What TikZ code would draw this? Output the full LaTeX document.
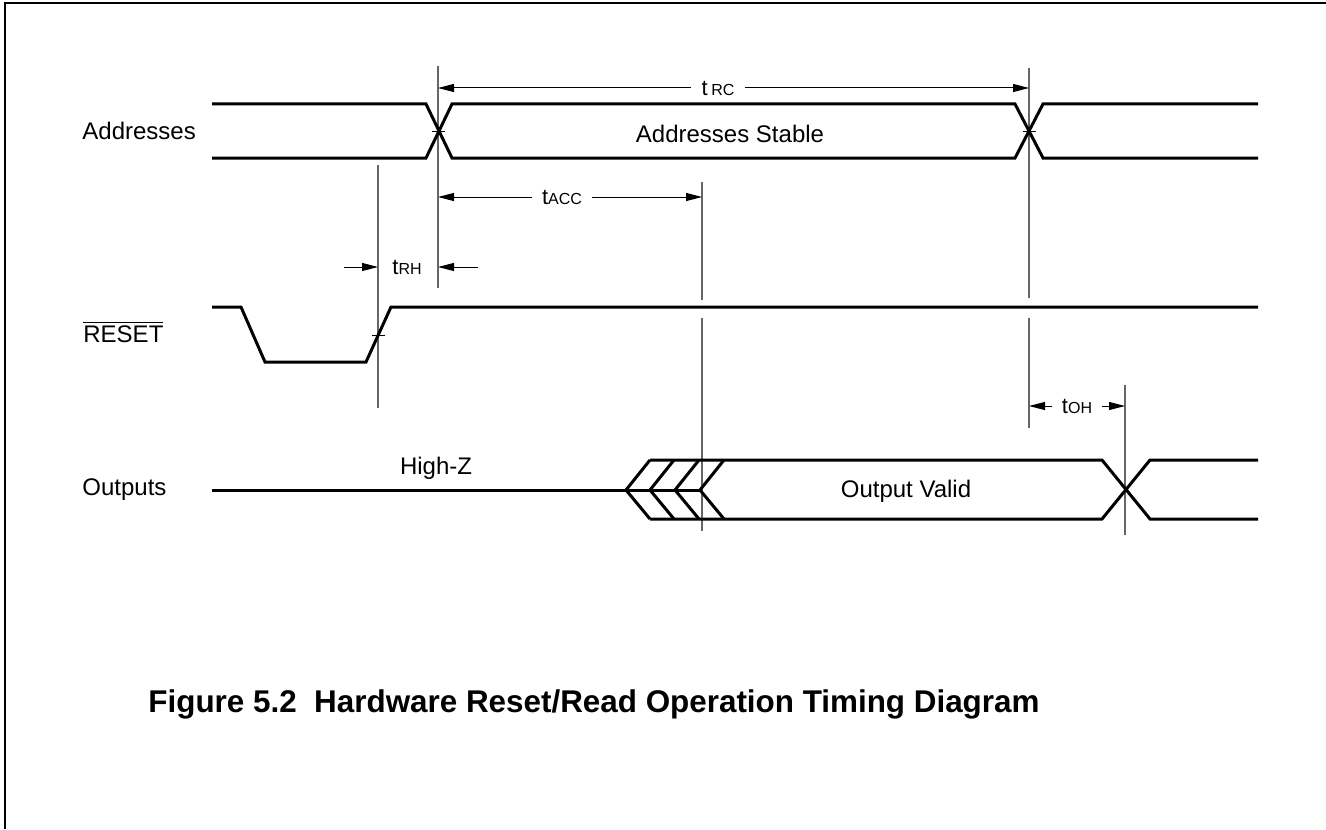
\documentclass[tikz,border=0pt]{standalone}
\usepackage{fontspec}
\setmainfont{Liberation Sans}
\usetikzlibrary{arrows.meta,calc}
\tikzset{
  sig/.style={line width=1.5pt, line join=miter},
  markline/.style={black!60, line width=0.6pt},
  dim/.style={line width=0.5pt, -{Triangle[length=8pt,width=4pt]}},
  lbl/.style={font=\fontsize{12}{14}\selectfont, inner sep=0pt},
  tlbl/.style={font=\fontsize{11}{13}\selectfont, inner xsep=5pt, inner ysep=0pt},
}
\newcommand{\tname}[2]{#1{\fontsize{8}{9}\selectfont #2}}

\begin{document}
\begin{tikzpicture}[x=0.5pt,y=-0.5pt]
    \useasboundingbox (0,0) rectangle (1326,829);
    \draw[line width=1pt] (5,829) -- (5,3) -- (1326,3);

    % timing marks
    \coordinate (rh1) at (378,165);   \coordinate (rh2) at (378,408);
    \coordinate (ad1) at (438,66);    \coordinate (ad2) at (438,288);
    \coordinate (ac1) at (702,182);   \coordinate (ac2) at (702,300);
    \coordinate (ac3) at (702,318);   \coordinate (ac4) at (702,531);
    \coordinate (rc1) at (1029,68);   \coordinate (rc2) at (1029,298);
    \coordinate (rc3) at (1029,318);  \coordinate (rc4) at (1029,428);
    \coordinate (oh1) at (1125,385);  \coordinate (oh2) at (1125,535);
    \draw[markline] (rh1) -- (rh2);
    \draw[markline] (ad1) -- (ad2);
    \draw[markline] (ac1) -- (ac2) (ac3) -- (ac4);
    \draw[markline] (rc1) -- (rc2) (rc3) -- (rc4);
    \draw[markline] (oh1) -- (oh2);

    % signal names
    \node[lbl,anchor=west] (addr) at (82,131) {Addresses};
    \node[lbl,anchor=west] (rst) at (83,332) {$\overline{\mbox{RESET}}$};
    \node[lbl,anchor=west] (outs) at (82,490) {Outputs};

    % addresses
    \draw[sig] (212,104) -- (426,104) -- (452,158) -- (1015,158) -- (1043,104) -- (1258,104);
    \draw[sig] (212,158) -- (426,158) -- (452,104) -- (1015,104) -- (1043,158) -- (1258,158);
    \draw[line width=0.5pt] (432,131) -- (445,131) (1023,131) -- (1036,131);
    \node[lbl] (stable) at (730,134) {Addresses Stable};

    % reset
    \draw[sig] (212,307) -- (241,307) -- (265,362) -- (366,362) -- (391,307) -- (1258,307);
    \draw[line width=0.5pt] (372,335) -- (385,335);

    % outputs
    \draw[sig] (212,490) -- (700,490);
    \foreach \x in {626,650,675,700}
        \draw[sig] (\x+24,460) -- (\x,490) -- (\x+24,519);
    \draw[sig] (650,460) -- (1102,460) -- (1150,519) -- (1258,519);
    \draw[sig] (650,519) -- (1102,519) -- (1150,460) -- (1258,460);
    \node[lbl] (hiz) at (436,468) {High-Z};
    \node[lbl] (valid) at (906,491) {Output Valid};

    % timing parameters
    \node[tlbl] (trc) at (718,88) {t\,\fontsize{8}{9}\selectfont RC};
    \draw[dim] (trc.west) -- (trc -| ad1);
    \draw[dim] (trc.east) -- (trc -| rc1);
    \node[tlbl] (tacc) at (562,197) {\tname{t}{ACC}};
    \draw[dim] (tacc.west) -- (tacc -| ad1);
    \draw[dim] (tacc.east) -- (tacc -| ac1);
    \node[tlbl] (trh) at (407,267) {\tname{t}{RH}};
    \draw[dim] ($(trh -| rh1)+(-34,0)$) -- (trh -| rh1);
    \draw[dim] ($(trh -| ad1)+(40,0)$) -- (trh -| ad1);
    \node[tlbl] (toh) at (1077,406) {\tname{t}{OH}};
    \draw[dim] (toh.west) -- (toh -| rc3);
    \draw[dim] (toh.east) -- (toh -| oh1);

    \node[font=\bfseries\fontsize{15.7}{18}\selectfont] (cap) at (594,704)
        {Figure 5.2\ \ Hardware Reset/Read Operation Timing Diagram};
\end{tikzpicture}
\end{document}
